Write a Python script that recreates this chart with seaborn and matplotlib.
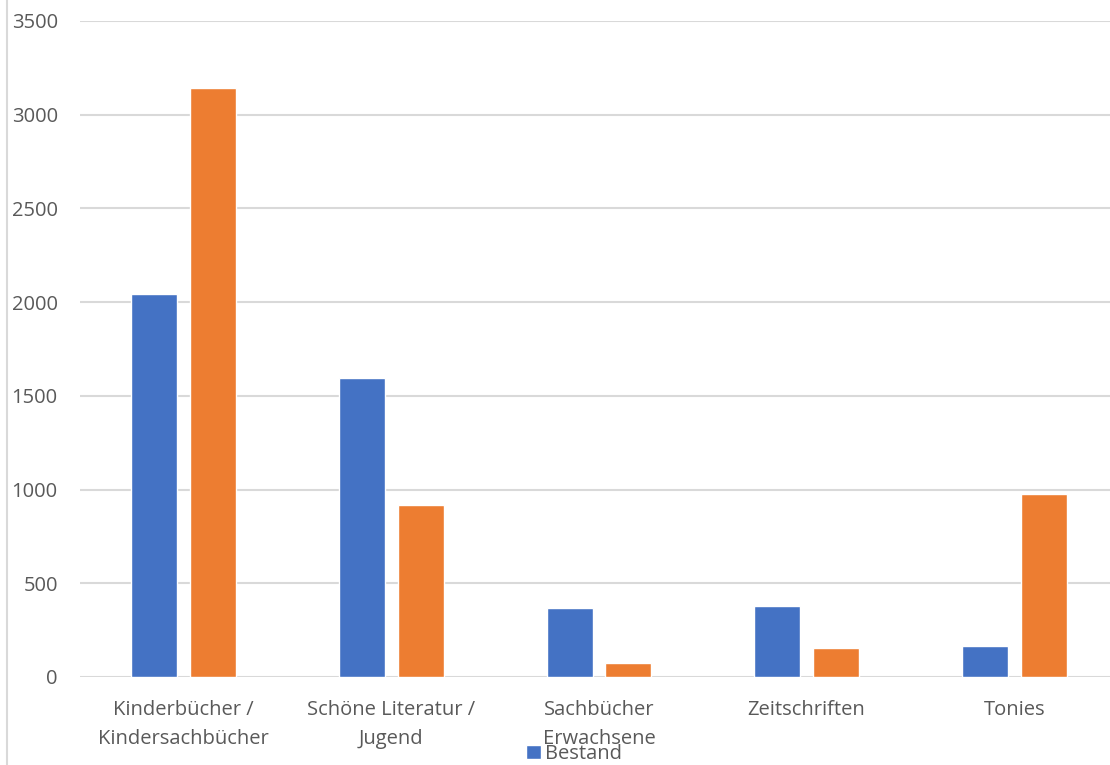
import pandas as pd
import numpy as np
import matplotlib
matplotlib.use("Agg")
import matplotlib.pyplot as plt
import seaborn as sns
from matplotlib.lines import Line2D

categories = ["Kinderbücher /\nKindersachbücher", "Schöne Literatur /\nJugend",
              "Sachbücher\nErwachsene", "Zeitschriften", "Tonies"]
bestand = [2042, 1595, 370, 380, 167]
ausleihen = [3140, 918, 75, 157, 977]
series_names = ["Bestand", "Ausleihen"]
colors = ["#4472C4", "#ED7D31"]

df = pd.DataFrame({
    "Kategorie": categories * 2,
    "Wert": bestand + ausleihen,
    "Serie": [series_names[0]] * len(categories) + [series_names[1]] * len(categories),
})

sns.set_style("white")
plt.rcParams["font.family"] = ["Open Sans", "DejaVu Sans"]
text_col = "#595959"
grid_col = "#d9d9d9"
fs = 14.5

fig = plt.figure(figsize=(11.1, 7.65), dpi=100)
ax = fig.add_axes([80 / 1110, 1 - 677 / 765, 1038 / 1110, (677 - 21) / 765])

sns.barplot(data=df, x="Kategorie", y="Wert", hue="Serie", palette=colors,
            width=0.567, gap=0.22, ax=ax, legend=False, saturation=1)

ax.set_ylim(0, 3500)
ax.set_xlim(-0.5, len(categories) - 0.5)
ax.set_yticks(np.arange(0, 3501, 500))
ax.yaxis.grid(True, color=grid_col, linewidth=1.5)
ax.set_axisbelow(True)
for s in ax.spines.values():
    s.set_visible(False)
ax.tick_params(axis="both", length=0, labelsize=fs, labelcolor=text_col)
ax.tick_params(axis="y", pad=16)
ax.tick_params(axis="x", pad=16.5)
for lbl in ax.get_xticklabels():
    lbl.set_linespacing(1.6)
ax.set_xlabel("")
ax.set_ylabel("")

# chart border on the left
fig.add_artist(Line2D([7 / 1110, 7 / 1110], [0, 1], transform=fig.transFigure,
                      color=grid_col, linewidth=1.5))

handle = plt.Rectangle((0, 0), 1, 1, facecolor=colors[0])
fig.legend([handle], [series_names[0]], loc="center",
           bbox_to_anchor=(574 / 1110, 1 - 754 / 765), frameon=False,
           handlelength=0.7, handleheight=0.7, handletextpad=0.2,
           fontsize=fs, labelcolor=text_col, borderpad=0)

fig.savefig("out.png", dpi=100)
